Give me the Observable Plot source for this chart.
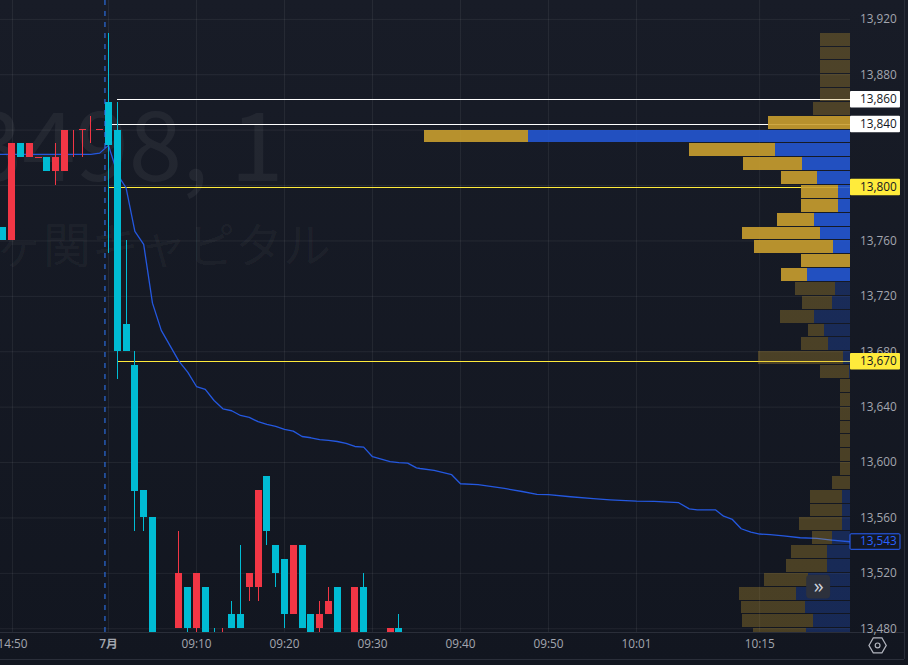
<!DOCTYPE html>
<html><head><meta charset="utf-8">
<script src="https://cdn.jsdelivr.net/npm/d3@7"></script>
<script src="https://cdn.jsdelivr.net/npm/@observablehq/plot@0.6"></script>
<style>
html,body{margin:0;padding:0;width:908px;height:665px;overflow:hidden;background:linear-gradient(#181c27,#121620);}
svg{display:block}
</style></head><body>
<script>
// ---- candles (bar index: 0 = 09:00)
const barIndex = [-12,-11,-10,-9,-8,-7,-6,-5,-4,-3,-2,-1,0,1,2,3,4,5,8,9,10,11,12,13,14,15,16,17,18,19,20,21,22,23,24,25,26,28,29,32,33];
const barOpen  = [13770,13760,13830,13820,13819.5,13820,13810,13810,13830,13840,13830,13840,13860,13840,13700,13670,13580,13560,13480,13510,13480,13510,13470,13460,13490,13490,13510,13510,13590,13540,13530,13490,13540,13490,13480,13490,13510,13470,13510,13470,13480];
const barClose = [13760,13830,13820,13830,13820.3,13810,13820,13840,13830.7,13840.7,13830.7,13840.7,13829,13680,13680,13579,13560,13470,13520,13480,13520,13470,13460,13470,13480,13480,13520,13580,13550,13520,13490,13540,13480,13470,13490,13500,13470,13510,13470,13480,13470];
const barHigh  = [13770,13830,13830,13830,13820.3,13820,13830,13840,13840,13840.7,13850,13840.7,13910,13860,13760,13680,13580,13560,13550,13510,13520,13510,13480,13480,13500,13540,13520,13580,13590,13540,13530,13540,13540,13490,13500,13510,13510,13510,13520,13480,13490];
const barLow   = [13760,13760,13820,13820,13819.5,13810,13800,13810,13820,13820,13830,13840,13751,13660,13680,13550,13550,13470,13480,13470,13470,13470,13460,13460,13480,13480,13500,13500,13540,13510,13480,13490,13480,13470,13470,13490,13470,13470,13470,13470,13470];

// ---- session VWAP
const vwapIndex = [-12.3,-2,-1,0,0.8,1.45,2,3,4,5,6,8,9,10,11,12,13,14,15,16,17,18,19,20,21,22,23,24,25,26,27,28,29,30,31,32,33,34,35,35.4,37,39,40,42,45,47,48.7,50,52.5,55.1,57,60,62,64.8,66,66.9,69,69.9,70.9,71.9,73,74,75.2,76.7,78.6,80.5,82.2,84.32];
const vwapPrice = [13822.5,13822.5,13823.4,13829,13813,13803.7,13798.4,13766.9,13757.5,13715.1,13695.4,13673.2,13665.3,13654.9,13652.8,13644.8,13638.8,13637.4,13634,13632.6,13629.5,13627.5,13626.1,13623.9,13622.7,13618.8,13617.9,13616.5,13616,13615.2,13613.8,13611.6,13611.1,13604.2,13602.5,13600.6,13599.9,13599.6,13596.2,13595.7,13594.3,13591.2,13584.7,13584,13581.3,13579.1,13577,13576.8,13575.3,13573.9,13573.1,13572.1,13571.9,13571,13566.6,13565.9,13565.8,13561.3,13558.9,13552.2,13549.7,13548.4,13547.9,13547.1,13545.7,13545.2,13544,13542.8];

// ---- volume profile (rows of 10 yen)
const rowTop  = [13910,13900,13890,13880,13870,13860,13850,13840,13830,13820,13810,13800,13790,13780,13770,13760,13750,13740,13730,13720,13710,13700,13690,13680,13670,13660,13650,13640,13630,13620,13610,13600,13590,13580,13570,13560,13550,13540,13530,13520,13510,13500,13490,13480];
const rowSell = [30,30,30,30,30,37,82,104,86,59,36,37,37,37,78,79,49,26,40,30,34,16,27,85,29,10,10,10,10,10,10,10,18,32,32,43,20,36,41,44,57,64,71,53];
const rowBuy  = [0,0,0,0,0,0,0,322,75,48,33,12,12,36,30,17,0,43,15,18,36,26,22,7,1,0,0,0,0,0,0,0,0,8,8,8,18,23,23,42,54,45,37,44];
const rowInValueArea = rowTop.map(p => p <= 13850 && p >= 13740);
const volumePerBar = 8.8;

// ---- price lines and their tags
const levelPrice = [13862,13844,13798.6,13672.8];
const levelLabel = ["13,860","13,840","13,800","13,670"];
const levelStart = [1,0,0,1];
const levelColor = ["#ffffff","#ffffff","#ffeb3b","#ffeb3b"];
const vwapTagPrice = 13542.6;
const vwapTagLabel = "13,543";

// ---- axes
const priceGrid  = [13920,13880,13840,13800,13760,13720,13680,13640,13600,13560,13520,13480];
const priceTicks = [13920,13880,13760,13720,13680,13640,13600,13560,13520,13480];
const timeTicks  = [-10.9,10,20,30,40,50,60,74];
const timeLabels = ["14:50","09:10","09:20","09:30","09:40","09:50","10:01","10:15"];
const monthTick = 0, monthLabel = "7月";
const sessionBreak = -0.4;

const xMin = -12.27, xEnd = 84.32;   // left edge and end of the price pane
const tagEnd = 90, stripEnd = 90.45, tagText = 85.4, iconX = 87.4, iconY = 13468, btnX = 80.7, btnY = 13510;
const stripY = 13457.8;

const candles = barIndex.map((i,k)=>({i,open:barOpen[k],close:barClose[k],high:barHigh[k],low:barLow[k]}));
const vwap = vwapIndex.map((i,k)=>({i,p:vwapPrice[k]}));
const rows = rowTop.map((top,k)=>({top,bottom:top-10,sell:rowSell[k]/volumePerBar,buy:rowBuy[k]/volumePerBar,va:rowInValueArea[k]}));
const levels = levelPrice.map((p,k)=>({p,label:levelLabel[k],start:levelStart[k],color:levelColor[k]}));
const up = d => d.close >= d.open;
const FONT = '"Open Sans","Noto Sans CJK JP",sans-serif';
const textCol = "#a3a6af";
const GOLD = "#c99f2f", BLUE = "#2356d1";

const chart = Plot.plot({
  width:908, height:665, marginTop:0, marginLeft:0, marginRight:58, marginBottom:33,
  style:{background:"transparent",fontFamily:FONT,fontSize:"11.8px",color:textCol},
  x:{type:"linear",domain:[xMin,xEnd],label:null},
  y:{type:"linear",domain:[13477.3,13933.6],label:null},
  marks:[
    // watermark
    Plot.text(["3498, 1"],{x:-15.86,y:13825.5,text:d=>d,textAnchor:"start",fontSize:96,fontFamily:'"Noto Sans CJK JP"',fill:"#fff",fillOpacity:0.055}),
    Plot.text(["霞ヶ関キャピタル"],{x:-18.35,y:13755.5,text:d=>d,textAnchor:"start",fontSize:48,fontFamily:'"Noto Sans CJK JP"',fill:"#fff",fillOpacity:0.045}),
    // grid
    Plot.gridY(priceGrid,{stroke:"#fff",strokeOpacity:0.065}),
    Plot.gridX([...timeTicks,monthTick],{stroke:"#fff",strokeOpacity:0.065}),
    // level lines
    Plot.ruleY(levels,{y:"p",x1:"start",x2:xEnd,stroke:"color",strokeWidth:1,shapeRendering:"crispEdges"}),
    // VWAP
    Plot.line(vwap,{x:"i",y:"p",stroke:"#2458e0",strokeWidth:1.3,clip:true}),
    // candles
    Plot.ruleX(candles,{x:"i",y1:"low",y2:"high",stroke:d=>up(d)?"#f23645":"#00bcd4",strokeWidth:1,clip:true,shapeRendering:"crispEdges"}),
    Plot.ruleX(candles,{x:"i",y1:"open",y2:"close",stroke:d=>up(d)?"#f23645":"#00bcd4",strokeWidth:7,clip:true,shapeRendering:"crispEdges"}),
    // session break
    Plot.ruleX([sessionBreak],{stroke:"#2e7bff",strokeWidth:1,strokeDasharray:"5,6"}),
    // volume profile
    Plot.rect(rows.filter(d=>d.sell>0),{x1:d=>xEnd-d.buy-d.sell,x2:d=>xEnd-d.buy,y1:"bottom",y2:"top",insetBottom:1,fill:GOLD,fillOpacity:d=>d.va?0.9:0.3,clip:true,shapeRendering:"crispEdges"}),
    Plot.rect(rows.filter(d=>d.buy>0),{x1:d=>xEnd-d.buy,x2:xEnd,y1:"bottom",y2:"top",insetBottom:1,fill:BLUE,fillOpacity:d=>d.va?0.9:0.3,clip:true,shapeRendering:"crispEdges"}),
    // pane borders
    Plot.ruleY([13477.3,stripY],{x1:xMin,x2:stripEnd,stroke:"#2a2e39",strokeWidth:1}),
    Plot.ruleX([stripEnd],{y1:stripY,y2:13933.6,stroke:"#2a2e39",strokeWidth:1}),
    // axes
    Plot.axisY(priceTicks,{anchor:"right",tickSize:0,tickPadding:9.5,dy:0,tickFormat:d3.format(","),color:textCol,label:null}),
    Plot.axisX(timeTicks,{anchor:"bottom",tickSize:0,tickPadding:7,tickFormat:(d,k)=>timeLabels[k],color:textCol,label:null}),
    Plot.axisX([monthTick],{anchor:"bottom",tickSize:0,tickPadding:7,tickFormat:()=>monthLabel,color:textCol,fontWeight:600,label:null}),
    // price tags
    Plot.rect(levels,{x1:xEnd,x2:tagEnd,y1:d=>d.p-5.95,y2:d=>d.p+5.95,fill:"color",r:1}),
    Plot.text(levels,{x:tagText,y:"p",text:"label",textAnchor:"start",fill:"#131722",dy:-0.5}),
    Plot.rect([vwapTagPrice],{x1:xEnd,x2:tagEnd,y1:d=>d-5.6,y2:d=>d+5.6,fill:"#131722",stroke:"#2962ff",strokeWidth:1,r:1}),
    Plot.text([vwapTagPrice],{x:tagText,y:d=>d,text:()=>vwapTagLabel,textAnchor:"start",fill:"#2962ff",dy:-0.5}),
    // scroll button and settings icon
    Plot.rect([btnY],{x1:btnX-1.36,x2:btnX+1.36,y1:d=>d-8.6,y2:d=>d+8.6,fill:"#2d313c",r:4}),
    Plot.text(["»"],{x:btnX,y:btnY,text:d=>d,fill:"#d1d4dc",fontSize:20,dy:-1}),
    Plot.dot([iconY],{x:iconX,y:d=>d,symbol:"hexagon",r:7.5,rotate:30,fill:"none",stroke:"#b2b5be",strokeWidth:1.2}),
    Plot.dot([iconY],{x:iconX,y:d=>d,r:2.4,fill:"none",stroke:"#b2b5be",strokeWidth:1.2})
  ]
});
document.body.appendChild(chart);
</script>
</body></html>
